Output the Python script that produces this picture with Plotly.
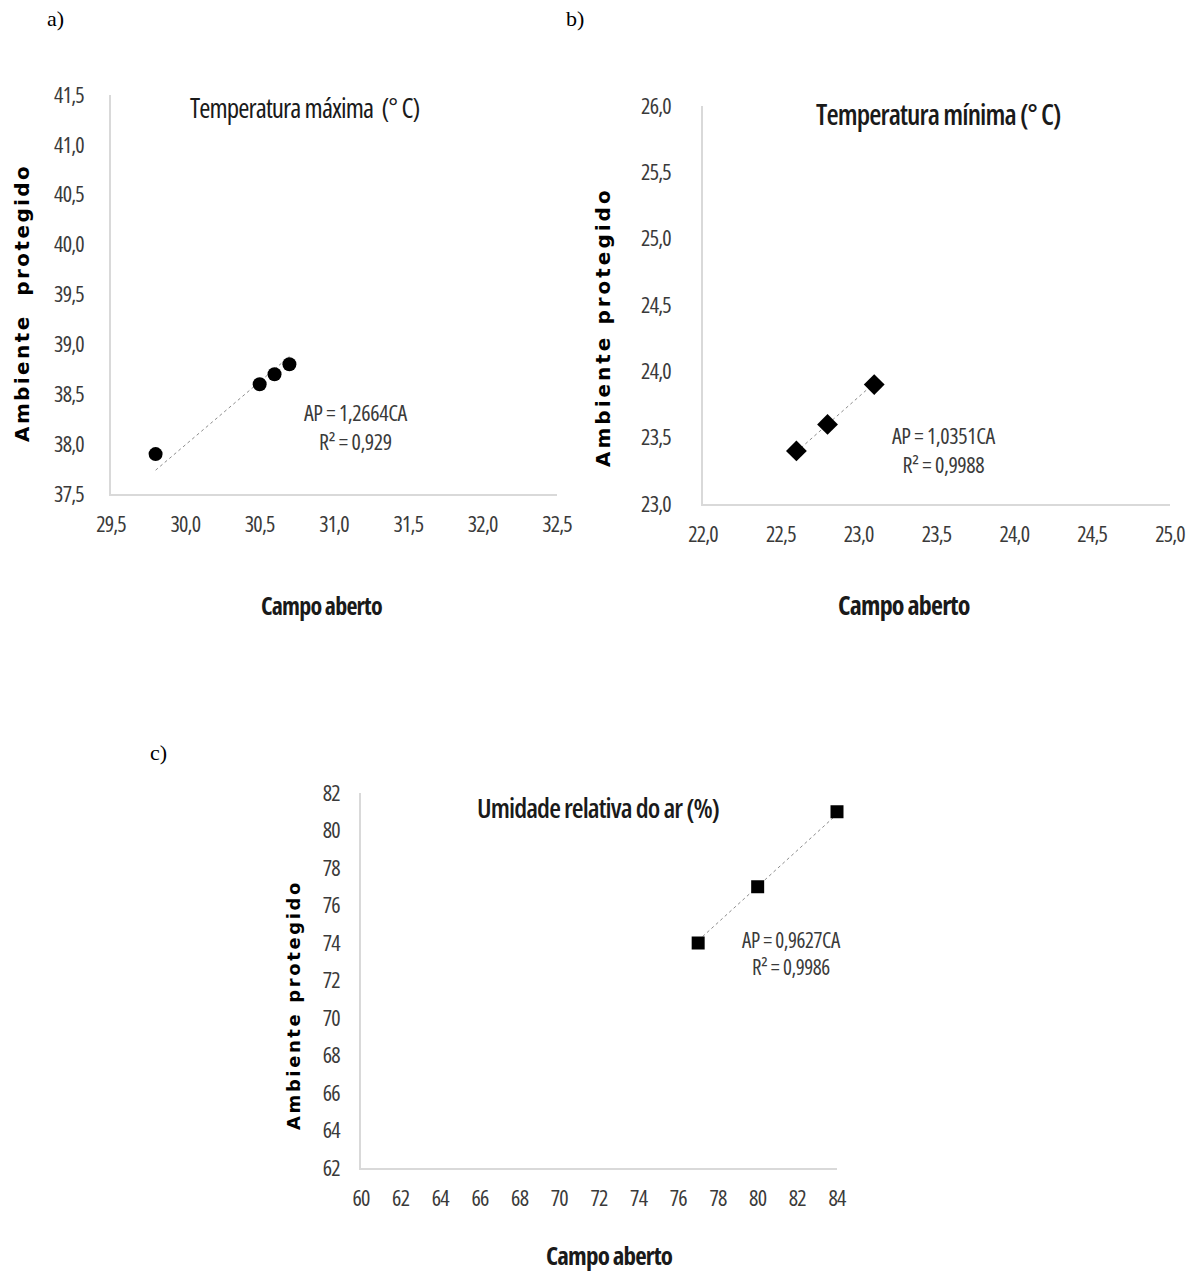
import plotly.graph_objects as go

W, H = 1197, 1272

# ---- data ----
a_ca = [29.8, 30.5, 30.6, 30.7]
a_ap = [37.9, 38.6, 38.7, 38.8]
a_slope = 1.2664
a_eq = "AP = 1,2664CA"
a_r2 = "R² = 0,929"
a_xticks = [29.5, 30.0, 30.5, 31.0, 31.5, 32.0, 32.5]
a_xlabels = ["29,5", "30,0", "30,5", "31,0", "31,5", "32,0", "32,5"]
a_yticks = [37.5, 38.0, 38.5, 39.0, 39.5, 40.0, 40.5, 41.0, 41.5]
a_ylabels = ["37,5", "38,0", "38,5", "39,0", "39,5", "40,0", "40,5", "41,0", "41,5"]

b_ca = [22.6, 22.8, 23.1]
b_ap = [23.4, 23.6, 23.9]
b_slope = 1.0351
b_eq = "AP = 1,0351CA"
b_r2 = "R² = 0,9988"
b_xticks = [22.0, 22.5, 23.0, 23.5, 24.0, 24.5, 25.0]
b_xlabels = ["22,0", "22,5", "23,0", "23,5", "24,0", "24,5", "25,0"]
b_yticks = [23.0, 23.5, 24.0, 24.5, 25.0, 25.5, 26.0]
b_ylabels = ["23,0", "23,5", "24,0", "24,5", "25,0", "25,5", "26,0"]

c_ca = [77, 80, 84]
c_ap = [74, 77, 81]
c_slope = 0.9627
c_eq = "AP = 0,9627CA"
c_r2 = "R² = 0,9986"
c_xticks = [60, 62, 64, 66, 68, 70, 72, 74, 76, 78, 80, 82, 84]
c_xlabels = ["60", "62", "64", "66", "68", "70", "72", "74", "76", "78", "80", "82", "84"]
c_yticks = [62, 64, 66, 68, 70, 72, 74, 76, 78, 80, 82]
c_ylabels = ["62", "64", "66", "68", "70", "72", "74", "76", "78", "80", "82"]

titles = ["Temperatura máxima  (° C)", "Temperatura mínima (° C)", "Umidade relativa do ar (%)"]
x_title = "Campo aberto"
y_titles = ["Ambiente  protegido", "Ambiente protegido", "Ambiente protegido"]
panel_letters = ["a)", "b)", "c)"]

OPEN = "Open Sans, sans-serif"
WIDE = "DejaVu Sans, Verdana, sans-serif"
SERIF = "Liberation Serif, Times New Roman, serif"


def cond(s, weight=None, ls=-1.0):
    st = "font-stretch:condensed;letter-spacing:%.1fpx" % ls
    if weight:
        st += ";font-weight:%d" % weight
    return '<span style="%s">%s</span>' % (st, s)


def spaced(s, ls):
    return '<span style="letter-spacing:%.1fpx"><b>%s</b></span>' % (ls, s)


def px_x(x):
    return x / W


def px_y(y):
    return 1 - y / H


boxes = {
    "a": (111, 557, 95, 494),
    "b": (703, 1170, 106, 504),
    "c": (361, 837, 793, 1168),
}

fig = go.Figure()


def trend(ca, slope):
    xs = [min(ca), max(ca)]
    return xs, [slope * v for v in xs]


series = [
    ("a", a_ca, a_ap, a_slope, "circle", 14, (29.5, 32.5), (37.5, 41.5),
     a_xticks, a_xlabels, a_yticks, a_ylabels, 21),
    ("b", b_ca, b_ap, b_slope, "diamond", 16, (22.0, 25.0), (23.0, 26.0),
     b_xticks, b_xlabels, b_yticks, b_ylabels, 26),
    ("c", c_ca, c_ap, c_slope, "square", 13, (60, 84), (62, 82),
     c_xticks, c_xlabels, c_yticks, c_ylabels, 15),
]

for i, (key, ca, ap, slope, sym, msize, xr, yr, xt, xl, yt, yl, ystand) in enumerate(series):
    xa = "x" if i == 0 else f"x{i+1}"
    ya = "y" if i == 0 else f"y{i+1}"
    tx, ty = trend(ca, slope)
    fig.add_trace(go.Scatter(x=tx, y=ty, mode="lines", xaxis=xa, yaxis=ya,
                             line=dict(color="#8c8c8c", width=1, dash="dot"),
                             showlegend=False, hoverinfo="skip", cliponaxis=False))
    fig.add_trace(go.Scatter(x=ca, y=ap, mode="markers", xaxis=xa, yaxis=ya,
                             marker=dict(symbol=sym, size=msize, color="black"),
                             showlegend=False, cliponaxis=False))
    l, r, t, b = boxes[key]
    axname_x = "xaxis" if i == 0 else f"xaxis{i+1}"
    axname_y = "yaxis" if i == 0 else f"yaxis{i+1}"
    fig.layout[axname_x] = dict(
        domain=[px_x(l), px_x(r)], range=list(xr),
        tickmode="array", tickvals=xt, ticktext=[cond(s, None, -0.8) for s in xl],
        anchor=ya, showgrid=False, zeroline=False, showline=True, automargin=False,
        linecolor="#d9d9d9", linewidth=1.5, ticks="",
        tickfont=dict(family=OPEN, size=22, color="#3a3a3a"),
        ticklabelstandoff=10,
    )
    fig.layout[axname_y] = dict(
        domain=[px_y(b), px_y(t)], range=list(yr),
        tickmode="array", tickvals=yt, ticktext=[cond(s, None, -0.8) for s in yl],
        anchor=xa, showgrid=False, zeroline=False, showline=True, automargin=False,
        linecolor="#d9d9d9", linewidth=1.5, ticks="",
        tickfont=dict(family=OPEN, size=22, color="#3a3a3a"),
        ticklabelstandoff=ystand,
    )

ann = []


def text(x, y, s, size, family=OPEN, color="#1a1a1a", angle=0, xanchor="center"):
    ann.append(dict(x=px_x(x), y=px_y(y), xref="paper", yref="paper", text=s,
                    showarrow=False, textangle=angle, xanchor=xanchor, yanchor="middle",
                    font=dict(family=family, size=size, color=color)))


# panel letters
text(55, 18, panel_letters[0], 22, SERIF, "black")
text(575, 18, panel_letters[1], 22, SERIF, "black")
text(158, 752, panel_letters[2], 22, SERIF, "black")

# titles
text(304, 108, cond(titles[0], None, -0.9), 27)
text(938, 114, cond(titles[1], 600, -0.9), 28)
text(598, 807, cond(titles[2], 600, -0.9), 27)

# equations (two lines each)
text(355, 426, cond(a_eq, None, -0.4) + "<br>" + cond(a_r2, None, -0.4), 22, OPEN, "#3a3a3a")
text(943, 449, cond(b_eq, None, -0.4) + "<br>" + cond(b_r2, None, -0.4), 22, OPEN, "#3a3a3a")
text(791, 953, cond(c_eq, None, -0.4) + "<br>" + cond(c_r2, None, -0.4), 21, OPEN, "#3a3a3a")

# axis titles
text(321, 606, cond(x_title, 700, -0.8), 24)
text(904, 605, cond(x_title, 700, -0.8), 26)
text(609, 1255, cond(x_title, 700, -0.8), 25)
text(22, 303, spaced(y_titles[0], 2.4), 20, WIDE, "black", -90)
text(603, 327, spaced(y_titles[1], 3.0), 20, WIDE, "black", -90)
text(293, 1005, spaced(y_titles[2], 2.6), 18, WIDE, "black", -90)

fig.update_layout(
    width=W, height=H, margin=dict(l=0, r=0, t=0, b=0, autoexpand=False),
    paper_bgcolor="white", plot_bgcolor="white",
    annotations=ann, showlegend=False,
)

fig.write_html("out.html")
